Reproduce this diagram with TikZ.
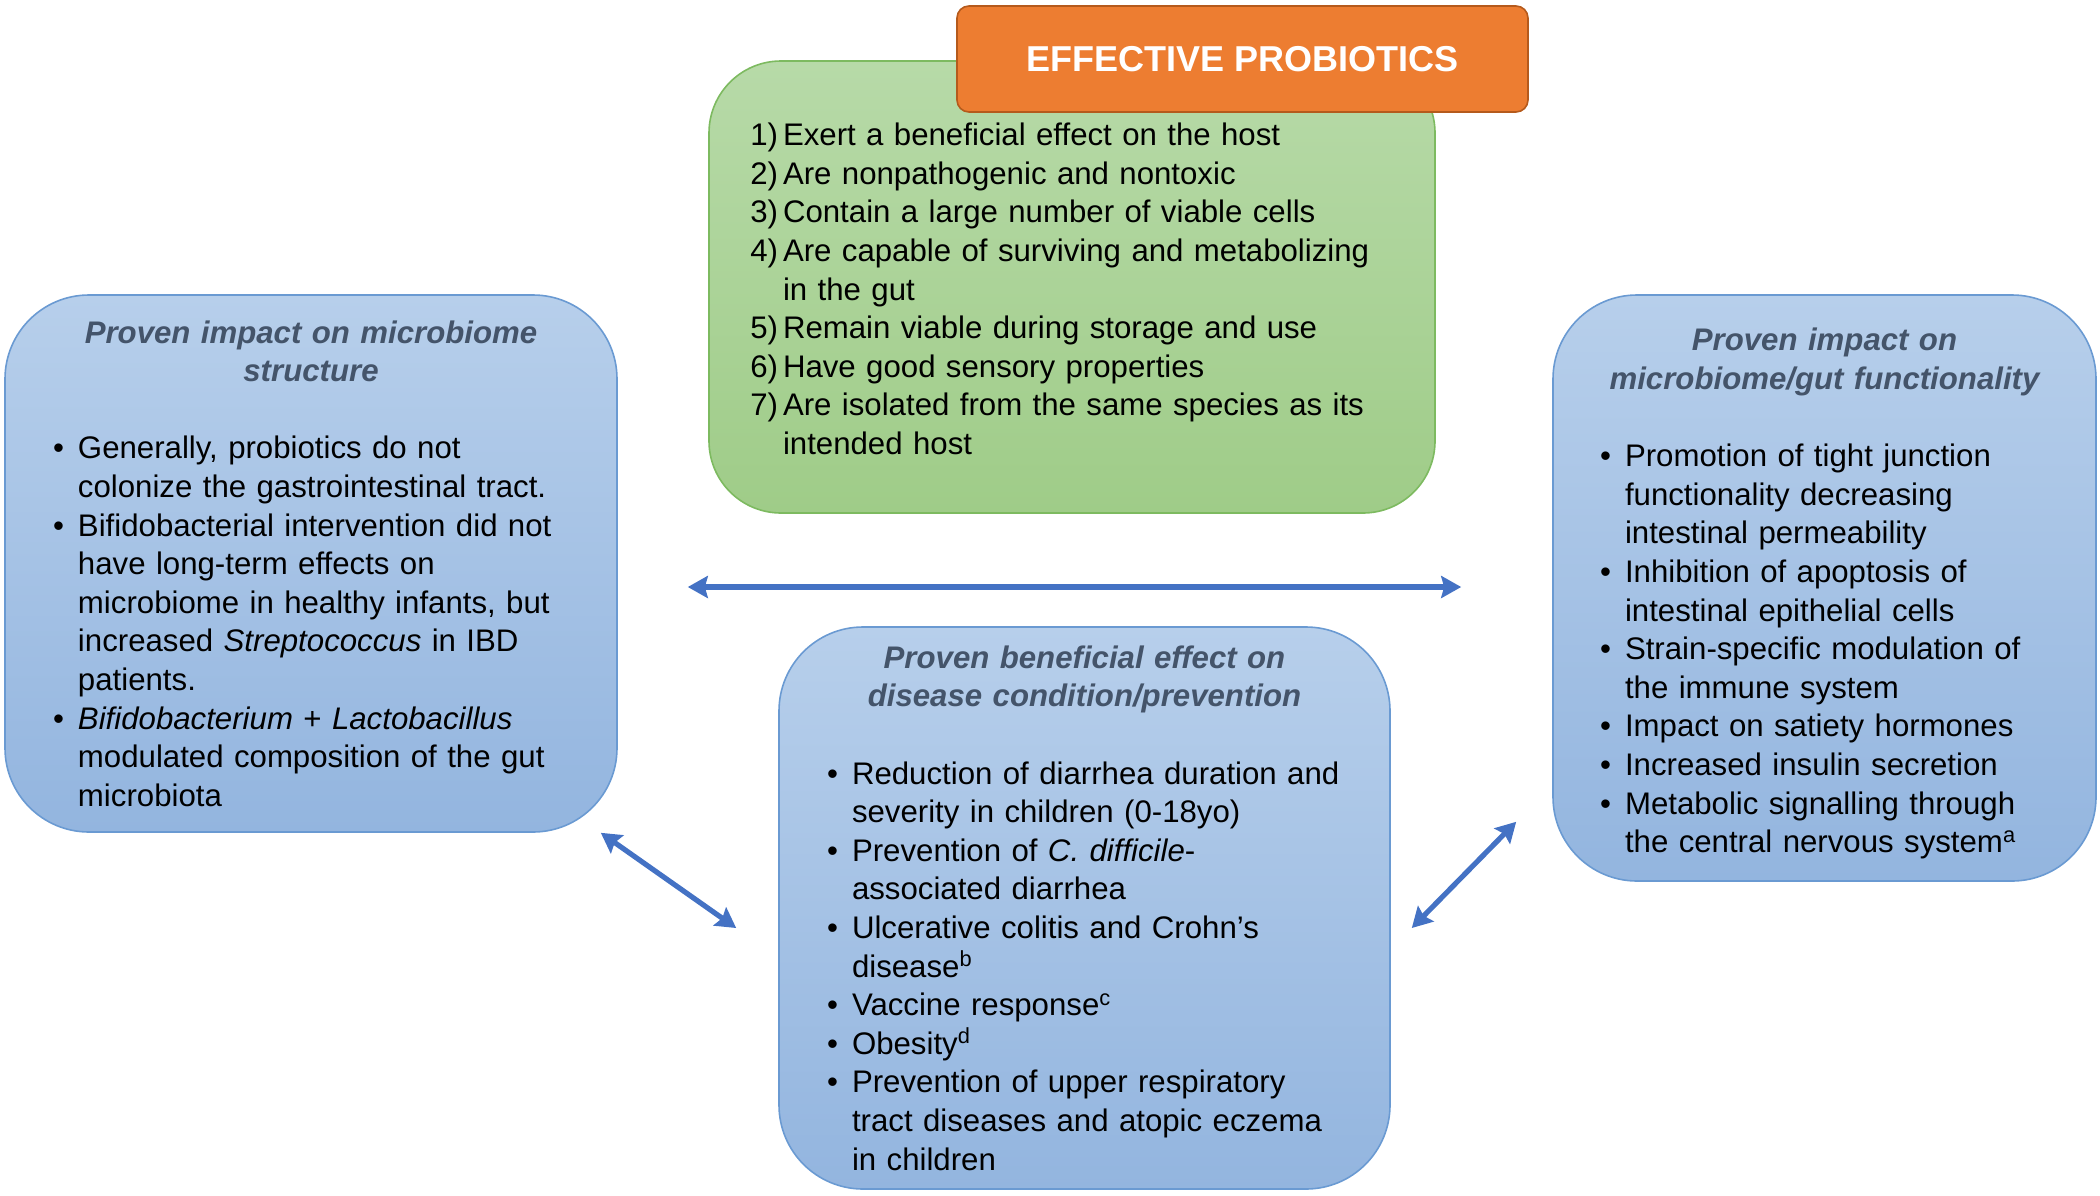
\documentclass[tikz,border=0pt]{standalone}
\usepackage{fontspec}
\setmainfont{Liberation Sans}
\usetikzlibrary{arrows.meta}

\definecolor{bluetop}{HTML}{B7CFEB}
\definecolor{bluebot}{HTML}{93B5DF}
\definecolor{blueline}{HTML}{6A9AD2}
\definecolor{greentop}{HTML}{B7DAA8}
\definecolor{greenbot}{HTML}{9FCC88}
\definecolor{greenline}{HTML}{7DBA60}
\definecolor{orangefill}{HTML}{ED7D31}
\definecolor{orangeline}{HTML}{B55A1C}
\definecolor{headc}{HTML}{44546A}
\definecolor{arrc}{HTML}{4472C4}

\newcommand{\boxhead}[1]{{\centering\bfseries\itshape\color{headc}#1\par}\vspace{\baselineskip}}
\newenvironment{bullets}{\begin{list}{\textbullet}{\setlength{\leftmargin}{13pt}\setlength{\labelwidth}{6pt}\setlength{\labelsep}{7pt}\setlength{\itemsep}{0pt}\setlength{\parsep}{0pt}\setlength{\topsep}{0pt}\setlength{\partopsep}{0pt}}}{\end{list}}
\newcounter{prop}
\newenvironment{props}{\begin{list}{\arabic{prop})}{\usecounter{prop}\setlength{\leftmargin}{17.5pt}\setlength{\labelwidth}{15pt}\setlength{\labelsep}{2.5pt}\setlength{\itemsep}{0pt}\setlength{\parsep}{0pt}\setlength{\topsep}{0pt}\setlength{\partopsep}{0pt}}}{\end{list}}

\tikzset{
  bluebox/.style={draw=blueline, line width=0.8pt, top color=bluetop, bottom color=bluebot, rounded corners=42pt, inner xsep=23.5pt, inner ysep=0pt, align=left, font=\fontsize{15.6}{19.3}\selectfont},
  greenbox/.style={draw=greenline, line width=0.8pt, top color=greentop, bottom color=greenbot, rounded corners=36pt, inner xsep=19.5pt, inner ysep=0pt, align=left, font=\fontsize{15.6}{19.3}\selectfont},
  titlebox/.style={draw=orangeline, line width=0.8pt, fill=orangefill, rounded corners=6pt, text=white, font=\fontsize{18}{22}\selectfont\bfseries},
  arr/.style={draw=arrc, line width=2.6pt, <->, >={Stealth[length=10pt,width=11pt,inset=1.5pt]}}
}

\begin{document}
\begin{tikzpicture}[x=0.5pt, y=-0.5pt]
\useasboundingbox (0,0) rectangle (2100,1195);

\node (gbox) [greenbox, minimum width=363pt, minimum height=226pt, text width=324pt] at (1072,287) {%
\begin{props}
\item Exert a beneficial effect on the host
\item Are nonpathogenic and nontoxic
\item Contain a large number of viable cells
\item Are capable of surviving and metabolizing\\in the gut
\item Remain viable during storage and use
\item Have good sensory properties
\item Are isolated from the same species as its\\intended host
\end{props}
\par\vspace{6pt}\hrule height 0pt};
\node (title) [titlebox, minimum width=285.5pt, minimum height=53pt] at (1242.5,59) {EFFECTIVE PROBIOTICS};

\node (lbox) [bluebox, minimum width=306pt, minimum height=268.5pt, text width=259pt] at (311,563.5) {%
\boxhead{Proven impact on microbiome\\structure}
\begin{bullets}
\item Generally, probiotics do not\\colonize the gastrointestinal tract.
\item Bifidobacterial intervention did not\\have long-term effects on\\microbiome in healthy infants, but\\increased \textit{Streptococcus} in IBD\\patients.
\item \textit{Bifidobacterium} + \textit{Lactobacillus}\\modulated composition of the gut\\microbiota
\end{bullets}};

\node (rbox) [bluebox, inner xsep=23pt, minimum width=271.5pt, minimum height=293pt, text width=225.5pt] at (1824.5,588) {%
\boxhead{\rule{0pt}{17pt}Proven impact on\\microbiome/gut functionality}
\begin{bullets}
\item Promotion of tight junction\\functionality decreasing\\intestinal permeability
\item Inhibition of apoptosis of\\intestinal epithelial cells
\item Strain-specific modulation of\\the immune system
\item Impact on satiety hormones
\item Increased insulin secretion
\item Metabolic signalling through\\the central nervous system\textsuperscript{a}
\end{bullets}};

\node (bbox) [bluebox, minimum width=305.5pt, minimum height=281pt, text width=258.5pt] at (1084.5,908) {%
\boxhead{Proven beneficial effect on\\disease condition/prevention}
\begin{bullets}
\item Reduction of diarrhea duration and\\severity in children (0-18yo)
\item Prevention of \textit{C. difficile}-\\associated diarrhea
\item Ulcerative colitis and Crohn’s\\disease\textsuperscript{b}
\item Vaccine response\textsuperscript{c}
\item Obesity\textsuperscript{d}
\item Prevention of upper respiratory\\tract diseases and atopic eczema\\in children
\end{bullets}};

\coordinate (mid) at (0,587);
\draw[arr, shorten <=35pt, shorten >=45.5pt] (lbox.east |- mid) -- (rbox.west |- mid);
\draw[arr] ([shift={(-17,0)}]lbox.south east) -- ([shift={(-42,20)}]bbox.west);
\draw[arr] ([shift={(-36,-60)}]rbox.south west) -- ([shift={(21,20)}]bbox.east);
\end{tikzpicture}
\end{document}
